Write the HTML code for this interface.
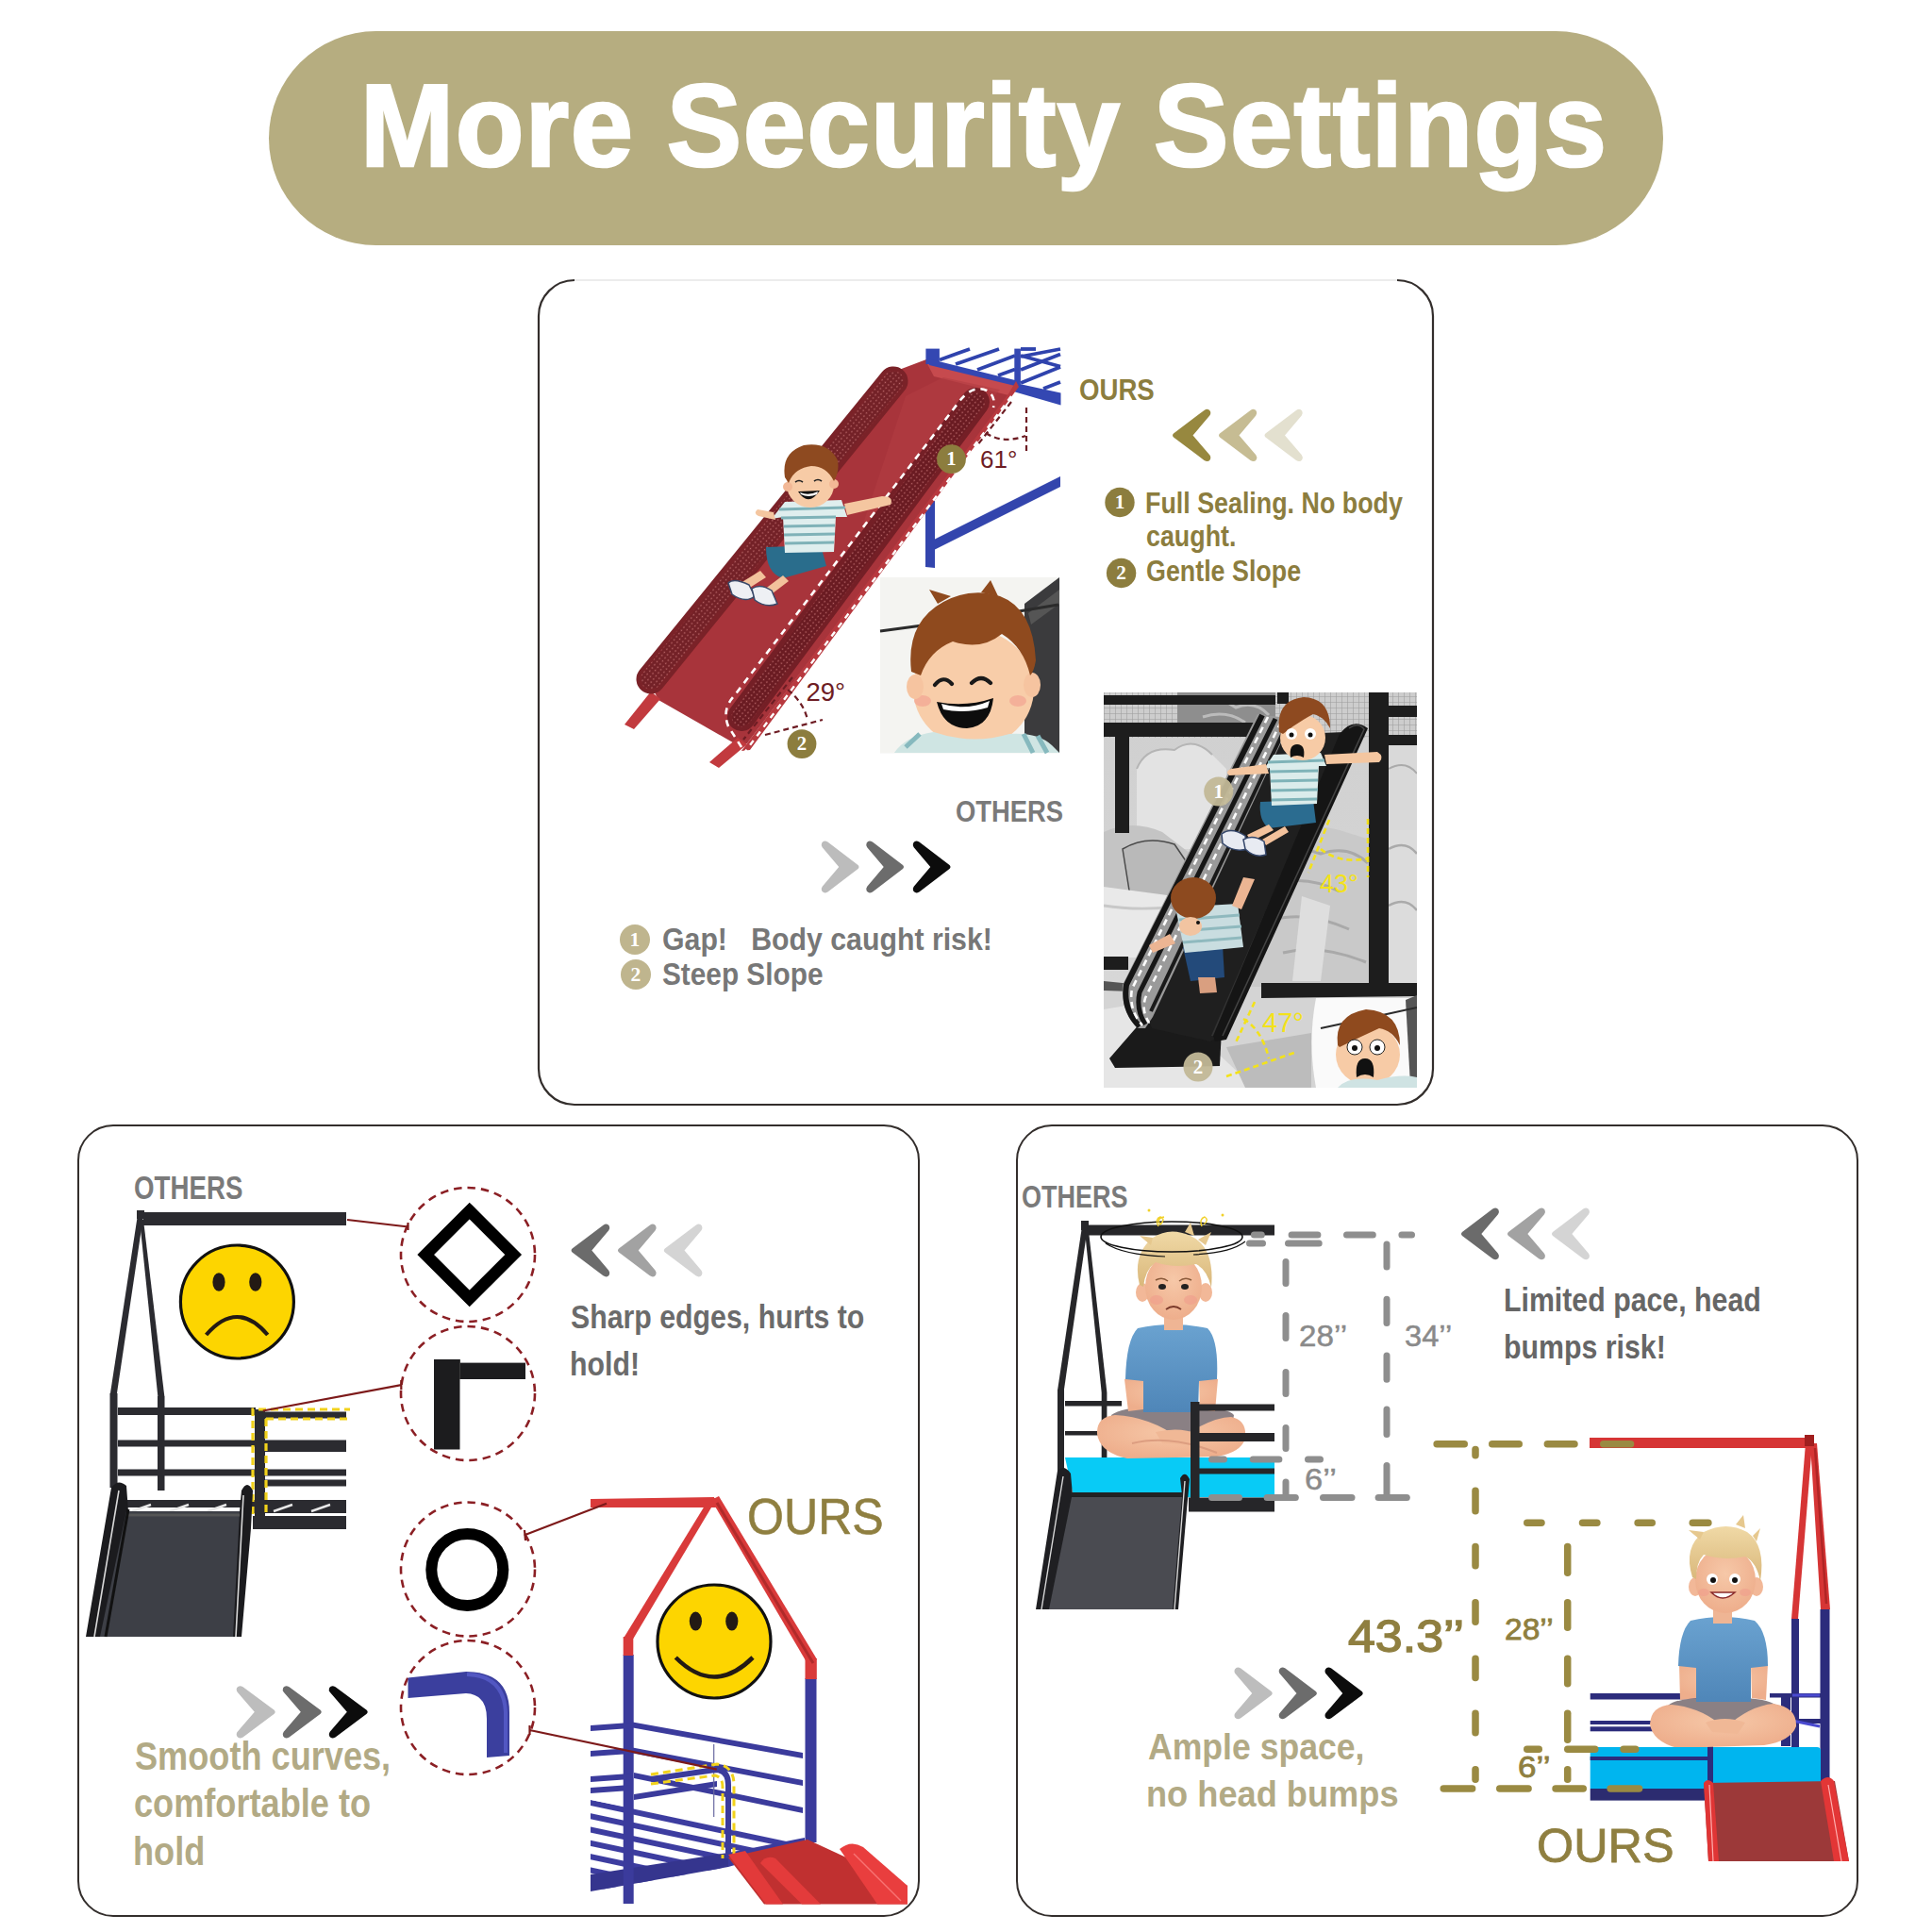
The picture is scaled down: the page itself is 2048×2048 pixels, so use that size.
<!DOCTYPE html>
<html><head><meta charset="utf-8">
<style>
*{margin:0;padding:0;box-sizing:border-box}
html,body{width:2048px;height:2048px;background:#fff;overflow:hidden}
body{position:relative;font-family:"Liberation Sans",sans-serif}
.a{position:absolute;white-space:nowrap;line-height:1;transform-origin:0 0}
.pill{left:285px;top:33px;width:1478px;height:227px;border-radius:114px;background:#b6ad80}
.title{left:382px;top:71px;font-size:119px;font-weight:bold;color:#fff;transform:scale(1.0,1.04);-webkit-text-stroke:2.6px #fff;letter-spacing:1.5px}
.box{position:absolute;border:2px solid #332e2c;border-radius:38px;background:#fff}
.b1{left:570px;top:296px;width:950px;height:876px;border-color:transparent}
.b2{left:82px;top:1192px;width:893px;height:840px}
.b3{left:1077px;top:1192px;width:893px;height:840px}
svg{position:absolute;left:0;top:0}
</style></head><body>
<div class="a pill"></div>
<div class="a title">More Security Settings</div>
<div class="box b1"></div>
<div class="box b2"></div>
<div class="box b3"></div>
<svg width="2048" height="2048" viewBox="0 0 2048 2048">
<path d="M609,297 L1481,297" stroke="#ececec" stroke-width="2" fill="none"/>
<path d="M609,297 A38,38 0 0 0 571,335 L571,1133 A38,38 0 0 0 609,1171 L1481,1171 A38,38 0 0 0 1519,1133 L1519,335 A38,38 0 0 0 1481,297" stroke="#332e2c" stroke-width="2.2" fill="none"/>

</svg>
<div class="a" style="left:1144.4px;top:396.9px;font-size:32.0px;font-weight:bold;color:#8c7d3e;transform:scaleX(0.863)">OURS</div>
<div class="a" style="left:1214.1px;top:518.2px;font-size:30.5px;font-weight:bold;color:#8c7d3e;transform:scaleX(0.88)">Full Sealing. No body</div>
<div class="a" style="left:1214.9px;top:553.2px;font-size:30.5px;font-weight:bold;color:#8c7d3e;transform:scaleX(0.88)">caught.</div>
<div class="a" style="left:1214.9px;top:590.2px;font-size:30.5px;font-weight:bold;color:#8c7d3e;transform:scaleX(0.88)">Gentle Slope</div>
<div class="a" style="left:1012.9px;top:843.9px;font-size:32.0px;font-weight:bold;color:#7a7a7a;transform:scaleX(0.856)">OTHERS</div>
<div class="a" style="left:701.8px;top:980.3px;font-size:32.7px;font-weight:bold;color:#777777;transform:scaleX(0.926)">Gap!&nbsp;&nbsp; Body caught risk!</div>
<div class="a" style="left:702.1px;top:1017.3px;font-size:32.7px;font-weight:bold;color:#777777;transform:scaleX(0.911)">Steep Slope</div>
<div class="a" style="left:141.5px;top:1241.5px;font-size:34.4px;font-weight:bold;color:#7a7a7a;transform:scaleX(0.805)">OTHERS</div>
<div class="a" style="left:604.7px;top:1379.3px;font-size:35.9px;font-weight:bold;color:#6b6b6b;transform:scaleX(0.844)">Sharp edges, hurts to</div>
<div class="a" style="left:603.5px;top:1428.6px;font-size:35.9px;font-weight:bold;color:#6b6b6b;transform:scaleX(0.844)">hold!</div>
<div class="a" style="left:791.5px;top:1580.5px;font-size:53.8px;font-weight:normal;color:#8f7f40;transform:scaleX(0.931);-webkit-text-stroke:0.6px #8f7f40">OURS</div>
<div class="a" style="left:142.6px;top:1841.4px;font-size:41.6px;font-weight:bold;color:#b2aa85;transform:scaleX(0.869)">Smooth curves,</div>
<div class="a" style="left:142.3px;top:1890.8px;font-size:41.6px;font-weight:bold;color:#b2aa85;transform:scaleX(0.869)">comfortable to</div>
<div class="a" style="left:141.2px;top:1941.8px;font-size:41.6px;font-weight:bold;color:#b2aa85;transform:scaleX(0.869)">hold</div>
<div class="a" style="left:1083.3px;top:1252.2px;font-size:33.6px;font-weight:bold;color:#7a7a7a;transform:scaleX(0.805)">OTHERS</div>
<div class="a" style="left:1593.9px;top:1360.2px;font-size:35.2px;font-weight:bold;color:#666666;transform:scaleX(0.861)">Limited pace, head</div>
<div class="a" style="left:1593.9px;top:1409.8px;font-size:35.2px;font-weight:bold;color:#666666;transform:scaleX(0.861)">bumps risk!</div>
<div class="a" style="left:1377.3px;top:1401.0px;font-size:31.5px;font-weight:normal;color:#8a8a8a;transform:scaleX(1.053);-webkit-text-stroke:0.5px #8a8a8a">28’’</div>
<div class="a" style="left:1488.7px;top:1401.0px;font-size:31.5px;font-weight:normal;color:#8a8a8a;transform:scaleX(1.035);-webkit-text-stroke:0.5px #8a8a8a">34’’</div>
<div class="a" style="left:1383.3px;top:1553.3px;font-size:31.5px;font-weight:normal;color:#8a8a8a;transform:scaleX(1.093);-webkit-text-stroke:0.5px #8a8a8a">6’’</div>
<div class="a" style="left:1429.1px;top:1710.6px;font-size:48.0px;font-weight:normal;color:#8f7f40;transform:scaleX(1.081);-webkit-text-stroke:1.4px #8f7f40">43.3’’</div>
<div class="a" style="left:1216.7px;top:1831.8px;font-size:39.2px;font-weight:bold;color:#b2aa85;transform:scaleX(0.908)">Ample space,</div>
<div class="a" style="left:1215.3px;top:1881.8px;font-size:39.2px;font-weight:bold;color:#b2aa85;transform:scaleX(0.924)">no head bumps</div>
<div class="a" style="left:1595.3px;top:1711.7px;font-size:31.1px;font-weight:normal;color:#8f7f40;transform:scaleX(1.079);-webkit-text-stroke:0.8px #8f7f40">28’’</div>
<div class="a" style="left:1609.2px;top:1858.4px;font-size:31.1px;font-weight:normal;color:#8f7f40;transform:scaleX(1.127);-webkit-text-stroke:0.8px #8f7f40">6’’</div>
<div class="a" style="left:1628.5px;top:1931.8px;font-size:50.3px;font-weight:normal;color:#8f7f40;transform:scaleX(1.002);-webkit-text-stroke:0.8px #8f7f40">OURS</div>
<svg width="2048" height="2048" viewBox="0 0 2048 2048">
<defs><pattern id="dots" width="4.2" height="4.2" patternUnits="userSpaceOnUse" patternTransform="rotate(38)"><circle cx="2.1" cy="2.1" r="0.75" fill="#d28080" opacity="0.75"/></pattern></defs>
<!-- blue frame lower -->
<g fill="#3345ad">
<path d="M981,523 L991,520 L991,602 L981,601 Z"/>
<path d="M990,572 L1124,505 L1124,516 L990,583 Z"/>
</g>
<!-- slide bed -->
<path d="M945,395 L982,381 L1076,406 L1070,420 L792,788 L782,790 L698,742 L688,722 Z" fill="#a8343b"/>
<path d="M982,384 L1076,407 L1069,419 L990,399 Z" fill="#c64a4e"/>
<path d="M960,420 L1000,400 L1060,413 L900,600 Z" fill="#b23d43" opacity="0.6"/>
<!-- blue frame top -->
<g stroke="#2f43ad" stroke-width="3.8" stroke-linecap="butt">
<line x1="996" y1="381.5" x2="1028" y2="370"/>
<line x1="1013" y1="386" x2="1059" y2="370"/>
<line x1="1036" y1="392" x2="1076" y2="377"/>
<line x1="1058" y1="398" x2="1076" y2="391.5"/>
<line x1="1082" y1="378" x2="1124" y2="370"/>
<line x1="1082" y1="392" x2="1124" y2="375.5"/>
<line x1="1082" y1="406" x2="1124" y2="389"/>
<line x1="1106" y1="412" x2="1124" y2="405"/>
<line x1="1082" y1="377" x2="1124" y2="388.5"/>
<line x1="1082" y1="370" x2="1098" y2="370"/>
</g>
<g fill="#3447b2">
<rect x="981.4" y="369.6" width="14.5" height="16.5"/>
<path d="M985,380.5 L1076,403 L1076,409 L985,387 Z"/>
<rect x="1075.3" y="369.6" width="6.6" height="38.4"/>
<path d="M1076,406 L1124.5,416.5 L1124.5,429.5 L1076,415.5 Z"/>
</g>
<!-- outer edge band -->
<path d="M1070,416 L1077,404 L1080,410 L795,795 L786,796 Z" fill="#b8393f"/>
<!-- legs -->
<path d="M690,733 L700,741 L672,773 L662,768 Z" fill="#c23a3e"/>
<path d="M782,782 L792,789 L762,814 L752,808 Z" fill="#c23a3e"/>
<!-- back rail -->
<line x1="947" y1="404" x2="690" y2="720" stroke="#7a2228" stroke-width="31" stroke-linecap="round"/>
<line x1="947" y1="404" x2="690" y2="720" stroke="#6e2127" stroke-width="20" stroke-linecap="round" opacity="0.5"/>
<line x1="947" y1="404" x2="690" y2="720" stroke="url(#dots)" stroke-width="22" stroke-linecap="round"/>
<!-- front rail -->
<line x1="1034" y1="426" x2="786" y2="760" stroke="#741f26" stroke-width="30" stroke-linecap="round"/>
<line x1="1034" y1="426" x2="786" y2="760" stroke="#651a20" stroke-width="19" stroke-linecap="round" opacity="0.6"/>
<line x1="1034" y1="426" x2="786" y2="760" stroke="url(#dots)" stroke-width="21" stroke-linecap="round"/>
<!-- white dashed loops -->
<path d="M786,792 L772,770 Q765,752 778,738 L1015,428 Q1030,407 1046,414 Q1056,420 1053,432" fill="none" stroke="#fff" stroke-width="2.6" stroke-dasharray="7 6"/>
<path d="M1072,420 L789,798" fill="none" stroke="#fff" stroke-width="2.4" stroke-dasharray="6 6"/>
<!-- angle markers -->
<g stroke="#6e1d24" stroke-width="2.2" fill="none" stroke-dasharray="6 4">
<path d="M1072,426 L1036,472"/>
<path d="M1088,432 L1088,478"/>
<path d="M1045,459 Q1063,471 1087,462"/>
<path d="M840,718 L788,784"/>
<path d="M811,779 L872,763"/>
<path d="M835,731 Q852,745 856,763"/>
</g>
<text x="1039" y="495.5" font-family="Liberation Sans" font-size="26" fill="#6e1d24">61°</text>
<text x="854.5" y="742.6" font-family="Liberation Sans" font-size="27.5" fill="#6e1d24">29°</text>
<!-- kid on slide -->
<g>
<path d="M812,580 L870,578 L876,600 L830,613 Q812,608 812,580 Z" fill="#2a6d8c"/>
<path d="M806,605 L785,618 L790,626 L812,612 Z" fill="#f3c29c"/>
<path d="M830,610 L810,625 L815,632 L836,616 Z" fill="#f3c29c"/>
<path d="M772,618 Q778,612 794,620 L800,632 Q790,640 776,630 Z" fill="#eef0f4" stroke="#3a4a6a" stroke-width="1.5"/>
<path d="M797,624 Q806,618 818,626 L824,640 Q812,645 800,636 Z" fill="#eef0f4" stroke="#3a4a6a" stroke-width="1.5"/>
<path d="M832,532 L892,530 L898,548 L886,548 L884,585 L832,586 L830,548 L818,550 Z" fill="#dfeeee"/>
<g stroke="#7fb2b8" stroke-width="3.2">
<line x1="826" y1="540" x2="896" y2="538"/>
<line x1="828" y1="549" x2="886" y2="548"/>
<line x1="831" y1="558" x2="885" y2="557"/>
<line x1="831" y1="567" x2="885" y2="566"/>
<line x1="832" y1="576" x2="884" y2="575"/>
</g>
<path d="M820,543 L803,540 Q798,544 804,547 L822,551 Z" fill="#f4c6a0"/>
<path d="M895,534 L935,526 Q948,526 944,535 L898,546 Z" fill="#f4c6a0"/>
<ellipse cx="859" cy="514" rx="25" ry="24" fill="#f7cba6"/>
<circle cx="835" cy="516" r="5" fill="#f2b896"/>
<circle cx="884" cy="513" r="5" fill="#f2b896"/>
<path d="M832,506 Q828,480 852,472 Q878,468 888,488 Q890,500 884,510 Q876,494 860,494 Q842,496 836,512 Z" fill="#8e4a20"/>
<path d="M846,521 Q857,538 869,520 Z" fill="#111"/>
<path d="M848,522 Q857,526 867,521 L866,524 Q857,528 849,524 Z" fill="#fff"/>
<path d="M843,511 Q847,508 851,511 M863,510 Q867,507 871,510" stroke="#222" stroke-width="1.6" fill="none"/>
</g>
<!-- inset face -->
<g>
<rect x="933" y="612" width="190.5" height="186.5" fill="#f4f4f1"/>
<path d="M1086,640 L1123,612 L1123,798 L1086,798 Z" fill="#3b3b3d"/>
<path d="M1090,650 L1123,625 L1123,640 L1093,662 Z" fill="#555"/>
<path d="M933,669 L1000,660 L1080,648 L1122,641" stroke="#2b2b2b" stroke-width="3" fill="none"/>
<ellipse cx="1032" cy="730" rx="64" ry="62" fill="#f8cda9"/>
<ellipse cx="978" cy="743" rx="9" ry="6" fill="#f3a995" opacity="0.8"/>
<ellipse cx="1079" cy="743" rx="9" ry="6" fill="#f3a995" opacity="0.8"/>
<ellipse cx="970" cy="728" rx="9" ry="13" fill="#f6c4a0"/>
<ellipse cx="1094" cy="726" rx="9" ry="13" fill="#f6c4a0"/>
<path d="M966,712 Q960,660 1000,638 Q1030,622 1060,632 Q1095,645 1098,700 Q1096,712 1092,716 Q1085,686 1062,672 Q1040,690 1010,680 Q985,690 976,716 Z" fill="#8f4a1e"/>
<path d="M994,640 L985,625 L1008,632 Z M1040,628 L1050,615 L1058,632 Z" fill="#8f4a1e"/>
<path d="M993,744 Q1000,772 1025,772 Q1050,770 1053,740 Q1024,750 993,744 Z" fill="#0d0d0d"/>
<path d="M998,746 Q1024,754 1049,743 L1047,750 Q1024,757 1000,752 Z" fill="#fff"/>
<path d="M991,726 Q1000,715 1009,725 M1030,724 Q1040,714 1050,724" stroke="#1a1a1a" stroke-width="4.2" fill="none" stroke-linecap="round"/>
<path d="M948,798 Q960,780 990,776 Q1030,790 1070,778 Q1100,776 1115,790 L1123,798 Z" fill="#cfe5e3"/>
<path d="M960,792 L975,778 M1085,778 L1095,798 M1100,780 L1110,798" stroke="#86b9be" stroke-width="5"/>
</g>
<defs>
<clipPath id="phc"><rect x="1170" y="734" width="332" height="419"/></clipPath>
<pattern id="mesh" width="6" height="6" patternUnits="userSpaceOnUse"><rect width="6" height="6" fill="#cdcdcd"/><path d="M0,0 H6 M0,0 V6" stroke="#9c9c9c" stroke-width="1.1"/></pattern>
<linearGradient id="wallg" x1="0" y1="0" x2="0" y2="1"><stop offset="0" stop-color="#cfcfcf"/><stop offset="1" stop-color="#dadada"/></linearGradient>
</defs>
<g clip-path="url(#phc)">
<rect x="1170" y="734" width="332" height="419" fill="url(#wallg)"/>
<!-- top bunk mattress mesh -->
<rect x="1170" y="734" width="332" height="48" fill="url(#mesh)"/>
<path d="M1248,734 L1352,734 L1352,770 L1300,772 L1248,770 Z" fill="#8e8e8e"/>
<path d="M1268,742 Q1290,736 1310,750 Q1330,742 1345,758 M1275,760 Q1300,752 1320,766" stroke="#cfcfcf" stroke-width="3" fill="none" opacity="0.7"/>
<!-- headboard -->
<path d="M1205,900 L1205,815 Q1215,790 1245,795 Q1265,780 1285,800 L1300,815 L1300,900 Z" fill="#e3e3e3"/>
<path d="M1205,815 Q1215,790 1245,795 Q1265,780 1285,800" stroke="#b5b5b5" stroke-width="2" fill="none"/>
<!-- right side upper wall -->
<rect x="1472" y="790" width="30" height="90" fill="#d9d9d9"/>
<path d="M1472,815 Q1490,805 1502,820" stroke="#aaa" stroke-width="2" fill="none"/>
<!-- pillows left -->
<path d="M1170,882 Q1200,868 1232,882 L1262,905 L1262,960 L1230,972 L1170,960 Z" fill="#c4c4c4"/>
<path d="M1190,900 Q1215,885 1245,895 L1262,920 L1258,965 L1222,975 L1198,950 Z" fill="#b9b9b9" stroke="#4a4a4a" stroke-width="1.5"/>
<path d="M1170,940 L1245,950 L1250,1015 L1170,1015 Z" fill="#e9e9e9"/>
<path d="M1170,960 Q1200,965 1240,962" stroke="#c8c8c8" stroke-width="3" fill="none"/>
<!-- lower right bedding -->
<path d="M1330,880 Q1380,870 1420,880 L1452,890 L1452,1046 L1320,1046 Z" fill="#c9c9c9"/>
<path d="M1340,905 Q1370,895 1400,905 Q1430,895 1450,915 M1345,940 Q1380,925 1420,945 M1350,975 Q1385,965 1430,985 M1360,1010 Q1400,1000 1448,1020" stroke="#a9a9a9" stroke-width="3" fill="none"/>
<path d="M1380,950 L1410,960 L1400,1040 L1370,1040 Z" fill="#dedede"/>
<rect x="1472" y="880" width="30" height="165" fill="#dcdcdc"/>
<path d="M1472,900 Q1490,890 1502,905 M1472,960 Q1490,950 1502,965" stroke="#aaa" stroke-width="2.5" fill="none"/>
<!-- floor -->
<rect x="1170" y="1046" width="332" height="110" fill="#d4d4d4"/>
<path d="M1170,1070 L1230,1060 L1330,1153 L1170,1153 Z" fill="#e6e6e6"/>
<path d="M1300,1110 L1390,1095 L1390,1153 L1320,1153 Z" fill="#bcbcbc"/>
<!-- black frame -->
<g fill="#1d1d1d">
<rect x="1170" y="737" width="182" height="10"/>
<rect x="1170" y="766" width="182" height="15"/>
<rect x="1182" y="780" width="15" height="103"/>
<rect x="1354" y="734" width="12" height="12"/>
<rect x="1451" y="734" width="21" height="322"/>
<rect x="1472" y="748" width="31" height="12"/>
<rect x="1472" y="779" width="31" height="11"/>
<rect x="1170" y="1014" width="26" height="14"/>
<path d="M1337,1042 L1503,1042 L1503,1056 L1337,1058 Z"/>
<path d="M1170,1040 L1230,1046 L1230,1052 L1170,1050 Z" fill="#555"/>
</g>
<!-- black slide -->
<path d="M1176,1122 L1209,1084 L1295,1091 L1293,1130 L1182,1132 Z" fill="#1a1a1a"/>
<path d="M1355,779 L1425,776 L1432,782 L1290,1100 L1283,1104 L1221,1090 L1215,1075 Z" fill="#1f1f1f"/>
<path d="M1420,785 L1430,780 L1292,1098 L1284,1098 Z" fill="#333"/>
<path d="M1333,757 L1356,760 L1366,770 L1222,1078 L1214,1090 L1206,1090 Q1188,1072 1190,1044 Z" fill="#9a9a9a"/>
<path d="M1338,758 L1194,1044 Q1190,1070 1208,1088" stroke="#161616" stroke-width="6" fill="none"/>
<path d="M1352,762 L1208,1052 Q1204,1070 1214,1086" stroke="#161616" stroke-width="5" fill="none"/>
<path d="M1364,768 L1220,1072" stroke="#1a1a1a" stroke-width="4" fill="none"/>
<path d="M1344,760 L1200,1048 Q1196,1070 1211,1087" stroke="#fff" stroke-width="2.6" fill="none" stroke-dasharray="7 5"/>
<path d="M1358,765 L1214,1058 Q1210,1072 1218,1084" stroke="#fff" stroke-width="2.6" fill="none" stroke-dasharray="7 5"/>
<path d="M1420,778 Q1434,760 1450,772 L1300,1102 L1288,1104 L1286,1098 Z" fill="#151515"/>
<path d="M1430,772 Q1440,765 1446,773 L1296,1098" stroke="#444" stroke-width="1.5" fill="none"/>
<!-- upper kid -->
<path d="M1336,850 L1392,848 L1395,872 L1345,878 Q1334,870 1336,850 Z" fill="#2b6c90"/>
<path d="M1345,874 L1322,885 L1326,892 L1350,880 Z M1362,876 L1338,890 L1342,896 L1366,882 Z" fill="#f3c29c"/>
<path d="M1295,884 Q1305,876 1320,886 L1322,900 Q1308,904 1296,894 Z" fill="#e8ebf2" stroke="#34466a" stroke-width="1.5"/>
<path d="M1318,890 Q1328,884 1340,892 L1342,906 Q1330,910 1320,900 Z" fill="#e8ebf2" stroke="#34466a" stroke-width="1.5"/>
<path d="M1350,800 L1400,798 L1406,812 L1398,812 L1396,852 L1348,854 L1346,814 L1340,815 Z" fill="#dbeceb"/>
<g stroke="#7fb3b8" stroke-width="3"><line x1="1344" y1="808" x2="1404" y2="806"/><line x1="1346" y1="818" x2="1397" y2="817"/><line x1="1347" y1="828" x2="1397" y2="827"/><line x1="1347" y1="838" x2="1397" y2="837"/><line x1="1348" y1="848" x2="1396" y2="847"/></g>
<path d="M1342,810 L1305,815 Q1298,818 1303,822 L1345,820 Z" fill="#f4c6a0"/>
<path d="M1404,800 L1460,797 Q1468,802 1462,808 L1406,810 Z" fill="#f4c6a0"/>
<ellipse cx="1381" cy="782" rx="24" ry="24" fill="#f7cba6"/>
<path d="M1356,776 Q1352,742 1382,739 Q1410,740 1410,772 Q1404,760 1392,757 Q1375,766 1360,778 Z" fill="#8e4a20"/>
<circle cx="1369" cy="778" r="6" fill="#fff"/><circle cx="1389" cy="778" r="6" fill="#fff"/>
<circle cx="1369" cy="779" r="2.5" fill="#111"/><circle cx="1389" cy="779" r="2.5" fill="#111"/>
<path d="M1368,803 Q1366,789 1375,789 Q1384,789 1382,803 Q1375,799 1368,803 Z" fill="#111"/>
<!-- lower kid -->
<path d="M1254,1004 L1296,1002 L1298,1036 L1262,1040 Z" fill="#234a7a"/>
<path d="M1270,1036 L1288,1036 L1290,1052 L1272,1053 Z" fill="#d99f80"/>
<path d="M1246,962 L1312,958 L1318,1004 L1256,1010 Z" fill="#c9dde0"/>
<g stroke="#8fb9be" stroke-width="3"><line x1="1250" y1="975" x2="1314" y2="970"/><line x1="1252" y1="987" x2="1316" y2="982"/><line x1="1254" y1="999" x2="1316" y2="994"/></g>
<path d="M1306,960 L1318,930 L1330,932 L1316,964 Z" fill="#ecb593"/>
<path d="M1240,990 L1218,1002 L1222,1010 L1246,1000 Z" fill="#ecb593"/>
<ellipse cx="1265" cy="952" rx="24" ry="22" fill="#8d4a1f"/>
<ellipse cx="1262" cy="982" rx="12" ry="10" fill="#f2c4a1"/>
<circle cx="1270" cy="978" r="2" fill="#111"/>
<!-- inset scared face -->
<path d="M1395,1058 L1502,1058 L1502,1153 L1395,1153 Q1386,1105 1395,1058 Z" fill="#fafafa"/>
<path d="M1490,1060 L1502,1055 L1502,1150 L1495,1150 Z" fill="#555"/>
<path d="M1400,1090 L1470,1075 L1502,1068" stroke="#2b2b2b" stroke-width="2" fill="none"/>
<ellipse cx="1450" cy="1118" rx="34" ry="32" fill="#f7cba6"/>
<path d="M1418,1108 Q1414,1076 1448,1070 Q1484,1072 1484,1108 Q1476,1092 1462,1090 Q1440,1100 1420,1110 Z" fill="#8f4a1e"/>
<circle cx="1436" cy="1110" r="8" fill="#fff" stroke="#222" stroke-width="1"/><circle cx="1460" cy="1110" r="8" fill="#fff" stroke="#222" stroke-width="1"/>
<circle cx="1436" cy="1111" r="3" fill="#111"/><circle cx="1460" cy="1111" r="3" fill="#111"/>
<path d="M1438,1142 Q1436,1122 1447,1122 Q1458,1122 1456,1142 Q1447,1136 1438,1142 Z" fill="#111"/>
<path d="M1418,1153 Q1430,1140 1460,1145 Q1485,1138 1502,1142 L1502,1153 Z" fill="#cfe3e3"/>
<!-- yellow angle markers -->
<g stroke="#f3e21a" stroke-width="2.6" fill="none" stroke-dasharray="6 4">
<path d="M1409,869 L1387,925"/>
<path d="M1450,868 L1450,930"/>
<path d="M1400,900 Q1420,916 1450,910"/>
<path d="M1330,1062 L1310,1105"/>
<path d="M1300,1141 L1372,1116"/>
<path d="M1318,1080 Q1338,1092 1345,1122"/>
</g>
<text x="1399" y="946" font-family="Liberation Sans" font-size="27" fill="#f3e21a">43°</text>
<text x="1338" y="1093.5" font-family="Liberation Sans" font-size="29" fill="#f3e21a">47°</text>
</g>
<circle cx="1291.7" cy="839" r="15.5" fill="#c2b897" opacity="0.95"/>
<text x="1291.7" y="846" font-family="Liberation Serif" font-weight="bold" font-size="21" fill="#fff" text-anchor="middle">1</text>
<circle cx="1270" cy="1131" r="15.5" fill="#c2b897" opacity="0.95"/>
<text x="1270" y="1138" font-family="Liberation Serif" font-weight="bold" font-size="21" fill="#fff" text-anchor="middle">2</text>
<!-- bottom-left OTHERS black frame -->
<g fill="#2b2b30">
<rect x="152" y="1285" width="215" height="14"/>
<rect x="145" y="1283" width="8" height="9"/>
<path d="M145.6,1290 L151.8,1290 L123.8,1478 L116.8,1478 Z"/>
<path d="M148,1293 L152,1293 L174.3,1480 L167.3,1480 Z"/>
<rect x="116.5" y="1477" width="8" height="100"/>
<rect x="167" y="1480" width="7.5" height="100"/>
<rect x="125" y="1492" width="146" height="8"/>
<rect x="271" y="1496.5" width="96" height="7"/>
<rect x="125" y="1526.5" width="242" height="7"/>
<rect x="280" y="1528" width="87" height="11"/>
<rect x="125" y="1557.5" width="242" height="7"/>
<rect x="280" y="1568.5" width="87" height="7"/>
<rect x="270" y="1494" width="11" height="113"/>
<rect x="125" y="1590" width="242" height="8"/>
<rect x="268" y="1592" width="99" height="12"/>
<rect x="268" y="1607" width="99" height="14"/>
</g>
<g stroke="#e8e8e8" stroke-width="2.4"><path d="M140,1602 L160,1595 M180,1602 L200,1595 M220,1602 L240,1595 M290,1602 L310,1595 M330,1602 L350,1595"/></g>

<!-- yellow dashes on L corner -->
<g stroke="#f2d21b" stroke-width="3.2" stroke-dasharray="8 5" fill="none">
<path d="M268,1605 L268,1494 L371,1494"/>
<path d="M282,1504 L371,1504"/>
<path d="M282,1504 L282,1605"/>
</g>
<!-- black slide -->
<path d="M118,1577 Q125,1567 134,1575 L136,1602 L254,1602 L256,1580 Q262,1568 268,1580 L266,1620 L256,1735 L91,1735 Z" fill="#1b1b1e"/>
<path d="M134,1602 L254,1602 L247,1735 L106,1735 Z" fill="#3d3f46"/>
<path d="M134,1606 L254,1606" stroke="#555" stroke-width="3"/>
<path d="M126,1580 L100,1735 M258,1585 L250,1735" stroke="#d8d8d8" stroke-width="1.6" fill="none"/>
<path d="M136,1600 L112,1735" stroke="#111" stroke-width="3"/>

<!-- bottom-left OURS red/blue frame -->
<defs>
<pattern id="slats" width="14" height="14" patternUnits="userSpaceOnUse" patternTransform="rotate(12)">
<rect width="14" height="14" fill="#fff"/><rect width="14" height="6" fill="#3d3da0"/></pattern>
</defs>
<path d="M626,1908 L853,1952 L772,1979 L626,2005 Z" fill="url(#slats)"/>
<path d="M626,1987 L772,1964 L772,1979 L626,2005 Z" fill="#35358e"/>
<path d="M772,1964 L853,1948 L853,1956 L772,1979 Z" fill="#3b3b9c"/>
<g fill="#3b3b9c">
<rect x="660.7" y="1754" width="11" height="264"/>
<rect x="853.5" y="1779" width="12" height="174"/>
<path d="M626,1829 L668,1826 L668,1832 L626,1835 Z"/>
<path d="M668,1825 L851,1858 L851,1864 L668,1831 Z"/>
<path d="M626,1856 L668,1853 L668,1859 L626,1862 Z"/>
<path d="M668,1852 L851,1887 L851,1893 L668,1858 Z"/>
<path d="M626,1883 L668,1880 L668,1886 L626,1889 Z"/>
<path d="M672,1879 L851,1916 L851,1922 L672,1885 Z"/>
<path d="M626,1895 L668,1892 L668,1898 L626,1901 Z"/>
<path d="M672,1902 L760,1888 L760,1894 L672,1908 Z"/>
</g>
<line x1="756.7" y1="1849" x2="756.7" y2="1926" stroke="#6a6aa0" stroke-width="1.2"/>
<!-- red frame -->
<g fill="#d93a3a">
<path d="M626,1589 L757,1587 L759,1598 L626,1598 Z"/>
<path d="M752,1588 L760,1588 L671.3,1737 L660.7,1737 Z"/>
<rect x="660.7" y="1735" width="10.6" height="20"/>
<path d="M754,1590 L762,1586 L866,1759 L855,1762 Z"/>
<rect x="853.5" y="1758" width="12.3" height="22"/>
</g>
<path d="M760,1593 L862,1763" stroke="#b02a2a" stroke-width="3"/>
<!-- curved handrail with yellow dashes -->
<path d="M690,1886 L758,1876 Q772,1876 772,1892 L772,1970" stroke="#3b3b9c" stroke-width="6" fill="none"/>
<path d="M690,1881 L760,1870 Q778,1872 778,1892 L778,1970 M690,1891 L758,1882 Q766,1884 766,1894 L766,1970" stroke="#f2d21b" stroke-width="3" stroke-dasharray="8 5" fill="none"/>
<!-- red slide -->
<path d="M772,1969 L856,1950 L962,1999 L962,2018.5 L810,2018.5 Z" fill="#c03030"/>
<path d="M772,1966 L790,1962 L830,2018.5 L812,2018.5 Z" fill="#e23a3a"/>
<path d="M806,1975 Q812,1966 822,1970 L870,2018.5 L850,2018.5 Z" fill="#e33b3b"/>
<path d="M890,1960 Q902,1950 915,1958 L962,1999 L962,2018.5 L930,2018.5 Z" fill="#e93e3e"/>
<path d="M905,1965 L955,2015" stroke="#ff8a8a" stroke-width="1.5" opacity="0.7"/>
<!-- bottom-right OTHERS frame -->
<defs>
<linearGradient id="shirt" x1="0" y1="0" x2="0" y2="1"><stop offset="0" stop-color="#6aa2d0"/><stop offset="1" stop-color="#4f86b8"/></linearGradient>
<radialGradient id="skin" cx="0.5" cy="0.4" r="0.6"><stop offset="0" stop-color="#f6c8a8"/><stop offset="1" stop-color="#eeae8c"/></radialGradient>
<linearGradient id="hair" x1="0" y1="0" x2="0" y2="1"><stop offset="0" stop-color="#f0d9a6"/><stop offset="1" stop-color="#d9b77a"/></linearGradient>
</defs>
<g fill="#262629">
<rect x="1148" y="1298.5" width="203" height="11"/>
<rect x="1146" y="1294" width="8" height="10"/>
<path d="M1147,1300 L1153,1300 L1127.8,1474 L1121,1474 Z"/>
<path d="M1150,1305 L1154,1305 L1173.4,1476 L1167.7,1476 Z"/>
<rect x="1121" y="1473" width="7" height="88"/>
<rect x="1167.7" y="1476" width="5.7" height="70"/>
<rect x="1129" y="1485" width="60" height="5.5"/>
<rect x="1129" y="1517" width="40" height="4.5"/>
</g>
<!-- cyan mattress -->
<path d="M1129,1545 L1351,1545 L1351,1587.5 L1138,1586.5 Z" fill="#08cbf6"/>
<!-- kid (others) -->
<g>
<path d="M1178,1500 Q1190,1490 1240,1492 Q1300,1490 1308,1500 L1305,1518 L1180,1518 Z" fill="#8a8084"/>
<path d="M1163,1520 Q1162,1502 1182,1500 Q1220,1502 1250,1525 Q1285,1502 1305,1502 Q1322,1505 1320,1525 Q1315,1540 1290,1544 L1195,1546 Q1166,1540 1163,1520 Z" fill="url(#skin)"/>
<path d="M1225,1518 Q1250,1512 1270,1520 L1262,1532 L1232,1530 Z" fill="#f0b896"/><path d="M1200,1530 Q1240,1520 1290,1540" stroke="#dc9d80" stroke-width="2" fill="none"/>
<path d="M1192,1462 L1212,1462 L1212,1494 L1196,1496 Z M1271,1462 L1291,1462 L1288,1496 L1272,1494 Z" fill="url(#skin)"/>
<path d="M1206,1408 Q1242,1400 1280,1408 Q1292,1420 1290,1462 L1271,1464 L1270,1497 L1212,1497 L1212,1464 L1193,1462 Q1194,1420 1206,1408 Z" fill="url(#shirt)"/>
<rect x="1234" y="1390" width="20" height="20" fill="#efb594"/>
<ellipse cx="1211" cy="1370" rx="7" ry="10" fill="#f2b898"/>
<ellipse cx="1278" cy="1370" rx="7" ry="10" fill="#f2b898"/>
<ellipse cx="1244" cy="1364" rx="30" ry="35" fill="url(#skin)"/>
<ellipse cx="1226" cy="1378" rx="7" ry="5" fill="#f09c8c" opacity="0.6"/>
<ellipse cx="1262" cy="1378" rx="7" ry="5" fill="#f09c8c" opacity="0.6"/>
<path d="M1208,1362 Q1200,1330 1222,1312 Q1240,1300 1262,1310 Q1288,1322 1284,1365 Q1280,1346 1268,1340 Q1245,1345 1225,1338 Q1214,1346 1212,1364 Z" fill="url(#hair)"/>
<path d="M1222,1312 L1208,1310 L1220,1320 Z M1256,1306 L1262,1296 L1266,1310 Z M1270,1314 L1284,1306 L1278,1320 Z" fill="#e6c88e"/>
<ellipse cx="1232" cy="1364" rx="4" ry="3" fill="#222"/>
<ellipse cx="1256" cy="1364" rx="4" ry="3" fill="#222"/>
<path d="M1225,1357 Q1232,1353 1238,1358 M1250,1358 Q1256,1353 1263,1357" stroke="#8a5a3a" stroke-width="1.5" fill="none"/>
<path d="M1236,1388 Q1244,1382 1252,1388" stroke="#7a3a2a" stroke-width="1.8" fill="none"/>
<ellipse cx="1242" cy="1311" rx="75" ry="16" fill="none" stroke="#111" stroke-width="1.6"/>
<path d="M1172,1318 Q1190,1330 1235,1332 M1265,1330 Q1305,1328 1320,1316" stroke="#111" stroke-width="1.2" fill="none"/>
<path d="M1228,1300 q-4,-8 2,-10 q6,2 0,8 q-5,-6 4,-8 M1274,1300 q-3,-8 3,-10 q5,3 -1,8" stroke="#f1d12a" stroke-width="1.4" fill="none"/>
<circle cx="1218" cy="1283" r="1.5" fill="#f1d12a"/><circle cx="1296" cy="1288" r="1.5" fill="#f1d12a"/>
</g>
<!-- right rails over kid -->
<g fill="#262629">
<rect x="1262" y="1486" width="9.5" height="110"/>
<rect x="1271" y="1488.5" width="80" height="7"/>
<rect x="1271" y="1519" width="80" height="9"/>
<rect x="1271" y="1556.5" width="80" height="6"/>
<rect x="1260" y="1587.5" width="91" height="15"/>
</g>
<!-- dark slide -->
<path d="M1121,1559 Q1128,1552 1135,1562 L1137,1585 L1253,1585 L1251,1567 Q1256,1558 1261,1568 L1258,1600 L1249,1706 L1098,1706 Z" fill="#1f1f22"/>
<path d="M1136,1587 L1253,1587 L1243,1706 L1112,1706 Z" fill="#4a4b51"/>
<path d="M1135,1584 L1253,1584" stroke="#222" stroke-width="4"/>
<path d="M1127,1565 L1104,1706 M1256,1570 L1245,1706" stroke="#d8d8d8" stroke-width="1.4" fill="none"/>

<!-- bottom-right OURS -->
<g fill="#d63535">
<path d="M1685,1524 L1922,1524 L1922,1535 L1685,1535 Z"/>
<path d="M1914,1530 L1921,1530 L1906,1716 L1899,1716 Z"/>
<path d="M1919,1530 L1926,1530 L1940,1706 L1930,1706 Z"/>
</g>
<rect x="1913" y="1521" width="10" height="12" fill="#a01e1e"/>
<path d="M1924,1535 L1936,1700" stroke="#b02525" stroke-width="2.5"/>
<g fill="#2c2c7c">
<rect x="1899" y="1716" width="8" height="136"/>
<rect x="1929.5" y="1706" width="10" height="183"/>
<path d="M1685.7,1795 L1808,1795 Q1816,1796 1816,1806 L1816,1888 L1810,1888 L1810,1808 Q1810,1802 1804,1801.5 L1685.7,1801.5 Z"/>
<rect x="1685.7" y="1824" width="67" height="4"/>
<rect x="1685.7" y="1830.3" width="125" height="5"/>
<rect x="1876" y="1795" width="54" height="4.5"/>
<rect x="1900" y="1822" width="30" height="5"/>
<rect x="1888" y="1795" width="10" height="56"/>
</g>
<path d="M1900,1797 L1929,1797 M1900,1824 L1929,1830" stroke="#4a4ad0" stroke-width="3"/>
<!-- kid (ours) -->
<g>
<path d="M1768,1808 Q1780,1798 1825,1800 Q1870,1798 1884,1808 L1880,1828 L1772,1828 Z" fill="#8a8084"/>
<path d="M1749,1828 Q1750,1808 1772,1807 Q1805,1810 1828,1832 Q1855,1808 1880,1806 Q1905,1810 1904,1830 Q1898,1846 1870,1850 L1778,1853 Q1752,1846 1749,1828 Z" fill="url(#skin)"/>
<path d="M1780,1764 L1798,1764 L1798,1800 L1781,1802 Z M1856,1764 L1874,1764 L1872,1802 L1857,1800 Z" fill="url(#skin)"/>
<path d="M1792,1718 Q1826,1710 1860,1718 Q1874,1730 1874,1766 L1856,1768 L1856,1804 L1798,1804 L1798,1768 L1779,1766 Q1780,1730 1792,1718 Z" fill="url(#shirt)"/>
<rect x="1816" y="1705" width="20" height="16" fill="#efb594"/>
<ellipse cx="1797" cy="1682" rx="7" ry="10" fill="#f2b898"/>
<ellipse cx="1862" cy="1682" rx="7" ry="10" fill="#f2b898"/>
<ellipse cx="1829" cy="1675" rx="32" ry="35" fill="url(#skin)"/>
<path d="M1794,1672 Q1784,1640 1806,1624 Q1830,1612 1852,1624 Q1872,1638 1866,1676 Q1862,1656 1850,1650 Q1828,1655 1806,1648 Q1798,1656 1798,1674 Z" fill="url(#hair)"/>
<path d="M1806,1624 L1790,1622 L1802,1632 Z M1840,1616 L1848,1606 L1850,1620 Z M1858,1628 L1866,1620 L1862,1634 Z" fill="#e6c88e"/>
<circle cx="1815" cy="1674" r="6" fill="#fff"/><circle cx="1839" cy="1674" r="6" fill="#fff"/>
<circle cx="1816" cy="1675" r="3" fill="#111"/><circle cx="1839" cy="1675" r="3" fill="#111"/>
<path d="M1814,1688 Q1826,1700 1839,1688 Z" fill="#fff" stroke="#8a2a2a" stroke-width="1.5"/><path d="M1808,1826 Q1828,1818 1850,1826 L1842,1838 L1815,1836 Z" fill="#f0b896"/>
<ellipse cx="1806" cy="1688" rx="6" ry="4" fill="#f09c8c" opacity="0.6"/>
<ellipse cx="1850" cy="1688" rx="6" ry="4" fill="#f09c8c" opacity="0.6"/>
</g>
<!-- cyan mattress ours -->
<path d="M1685.7,1852 L1926,1852 Q1930,1852 1930,1856 L1930,1896 L1685.7,1896 Z" fill="#00b5ef"/>
<rect x="1685.7" y="1862" width="130" height="4" fill="#2c2c7c"/>
<rect x="1685.7" y="1896" width="244" height="12.6" fill="#2c2c70"/>
<rect x="1810" y="1852" width="6" height="40" fill="#2c2c7c"/>
<!-- red slide ours -->
<path d="M1806,1890 L1945,1888 L1960,1973 L1811,1973 Z" fill="#9c3939"/>
<path d="M1806,1890 Q1810,1884 1816,1890 L1822,1973 L1811,1973 Z" fill="#e03535"/>
<path d="M1930,1888 Q1938,1880 1944,1888 L1960,1973 L1944,1973 Z" fill="#e33636"/>
<path d="M1812,1892 L1816,1973 M1938,1892 L1952,1973" stroke="#ffb0b0" stroke-width="1.2"/>
<path d="M1,26 L33.5,1.6 Q37.5,-0.8 39.8,2.4 Q41,5 39.3,7.2 L21.5,28 L39.3,48.8 Q41,51 39.8,53.6 Q37.5,56.8 33.5,54.4 L1,30 Q-1,28 1,26 Z" fill="#97883f" transform="translate(1243,433.3) scale(1.0,1.0053571428571428)"/>
<path d="M1,26 L33.5,1.6 Q37.5,-0.8 39.8,2.4 Q41,5 39.3,7.2 L21.5,28 L39.3,48.8 Q41,51 39.8,53.6 Q37.5,56.8 33.5,54.4 L1,30 Q-1,28 1,26 Z" fill="#c6bc93" transform="translate(1292,433.3) scale(1.0,1.0053571428571428)"/>
<path d="M1,26 L33.5,1.6 Q37.5,-0.8 39.8,2.4 Q41,5 39.3,7.2 L21.5,28 L39.3,48.8 Q41,51 39.8,53.6 Q37.5,56.8 33.5,54.4 L1,30 Q-1,28 1,26 Z" fill="#e3e0cf" transform="translate(1340.5,433.3) scale(1.0,1.0053571428571428)"/>
<path d="M1,26 L33.5,1.6 Q37.5,-0.8 39.8,2.4 Q41,5 39.3,7.2 L21.5,28 L39.3,48.8 Q41,51 39.8,53.6 Q37.5,56.8 33.5,54.4 L1,30 Q-1,28 1,26 Z" fill="#bcbcbc" transform="translate(910.5,891) scale(-0.9875,1.0)"/>
<path d="M1,26 L33.5,1.6 Q37.5,-0.8 39.8,2.4 Q41,5 39.3,7.2 L21.5,28 L39.3,48.8 Q41,51 39.8,53.6 Q37.5,56.8 33.5,54.4 L1,30 Q-1,28 1,26 Z" fill="#6c6c6c" transform="translate(958.0,891) scale(-0.9875,1.0)"/>
<path d="M1,26 L33.5,1.6 Q37.5,-0.8 39.8,2.4 Q41,5 39.3,7.2 L21.5,28 L39.3,48.8 Q41,51 39.8,53.6 Q37.5,56.8 33.5,54.4 L1,30 Q-1,28 1,26 Z" fill="#0c0c0c" transform="translate(1007.5,891) scale(-0.9875,1.0)"/>
<path d="M1,26 L33.5,1.6 Q37.5,-0.8 39.8,2.4 Q41,5 39.3,7.2 L21.5,28 L39.3,48.8 Q41,51 39.8,53.6 Q37.5,56.8 33.5,54.4 L1,30 Q-1,28 1,26 Z" fill="#6b6b6b" transform="translate(605.6,1297) scale(1.01,1.0178571428571428)"/>
<path d="M1,26 L33.5,1.6 Q37.5,-0.8 39.8,2.4 Q41,5 39.3,7.2 L21.5,28 L39.3,48.8 Q41,51 39.8,53.6 Q37.5,56.8 33.5,54.4 L1,30 Q-1,28 1,26 Z" fill="#a2a2a2" transform="translate(655,1297) scale(1.01,1.0178571428571428)"/>
<path d="M1,26 L33.5,1.6 Q37.5,-0.8 39.8,2.4 Q41,5 39.3,7.2 L21.5,28 L39.3,48.8 Q41,51 39.8,53.6 Q37.5,56.8 33.5,54.4 L1,30 Q-1,28 1,26 Z" fill="#d4d4d4" transform="translate(703.8,1297) scale(1.01,1.0178571428571428)"/>
<path d="M1,26 L33.5,1.6 Q37.5,-0.8 39.8,2.4 Q41,5 39.3,7.2 L21.5,28 L39.3,48.8 Q41,51 39.8,53.6 Q37.5,56.8 33.5,54.4 L1,30 Q-1,28 1,26 Z" fill="#bdbdbd" transform="translate(291.7,1786.6) scale(-1.0175,1.0071428571428571)"/>
<path d="M1,26 L33.5,1.6 Q37.5,-0.8 39.8,2.4 Q41,5 39.3,7.2 L21.5,28 L39.3,48.8 Q41,51 39.8,53.6 Q37.5,56.8 33.5,54.4 L1,30 Q-1,28 1,26 Z" fill="#6c6c6c" transform="translate(340.7,1786.6) scale(-1.0175,1.0071428571428571)"/>
<path d="M1,26 L33.5,1.6 Q37.5,-0.8 39.8,2.4 Q41,5 39.3,7.2 L21.5,28 L39.3,48.8 Q41,51 39.8,53.6 Q37.5,56.8 33.5,54.4 L1,30 Q-1,28 1,26 Z" fill="#0c0c0c" transform="translate(389.7,1786.6) scale(-1.0175,1.0071428571428571)"/>
<path d="M1,26 L33.5,1.6 Q37.5,-0.8 39.8,2.4 Q41,5 39.3,7.2 L21.5,28 L39.3,48.8 Q41,51 39.8,53.6 Q37.5,56.8 33.5,54.4 L1,30 Q-1,28 1,26 Z" fill="#6b6b6b" transform="translate(1549,1280) scale(0.9925,0.9964285714285713)"/>
<path d="M1,26 L33.5,1.6 Q37.5,-0.8 39.8,2.4 Q41,5 39.3,7.2 L21.5,28 L39.3,48.8 Q41,51 39.8,53.6 Q37.5,56.8 33.5,54.4 L1,30 Q-1,28 1,26 Z" fill="#a2a2a2" transform="translate(1598,1280) scale(0.9925,0.9964285714285713)"/>
<path d="M1,26 L33.5,1.6 Q37.5,-0.8 39.8,2.4 Q41,5 39.3,7.2 L21.5,28 L39.3,48.8 Q41,51 39.8,53.6 Q37.5,56.8 33.5,54.4 L1,30 Q-1,28 1,26 Z" fill="#d4d4d4" transform="translate(1645,1280) scale(0.9925,0.9964285714285713)"/>
<path d="M1,26 L33.5,1.6 Q37.5,-0.8 39.8,2.4 Q41,5 39.3,7.2 L21.5,28 L39.3,48.8 Q41,51 39.8,53.6 Q37.5,56.8 33.5,54.4 L1,30 Q-1,28 1,26 Z" fill="#bdbdbd" transform="translate(1348.7,1767) scale(-0.9974999999999999,0.9964285714285713)"/>
<path d="M1,26 L33.5,1.6 Q37.5,-0.8 39.8,2.4 Q41,5 39.3,7.2 L21.5,28 L39.3,48.8 Q41,51 39.8,53.6 Q37.5,56.8 33.5,54.4 L1,30 Q-1,28 1,26 Z" fill="#6c6c6c" transform="translate(1395.9,1767) scale(-0.9974999999999999,0.9964285714285713)"/>
<path d="M1,26 L33.5,1.6 Q37.5,-0.8 39.8,2.4 Q41,5 39.3,7.2 L21.5,28 L39.3,48.8 Q41,51 39.8,53.6 Q37.5,56.8 33.5,54.4 L1,30 Q-1,28 1,26 Z" fill="#0c0c0c" transform="translate(1444.7,1767) scale(-0.9974999999999999,0.9964285714285713)"/>
<circle cx="1187" cy="532.5" r="15.7" fill="#8c7d3e" opacity="1"/>
<text x="1187" y="539.094" font-family="Liberation Serif" font-weight="bold" font-size="21.195" fill="#fff" text-anchor="middle">1</text>
<circle cx="1188.6" cy="607.5" r="15.7" fill="#8c7d3e" opacity="1"/>
<text x="1188.6" y="614.094" font-family="Liberation Serif" font-weight="bold" font-size="21.195" fill="#fff" text-anchor="middle">2</text>
<circle cx="1008.5" cy="486.7" r="15.4" fill="#8c7d3e" opacity="1"/>
<text x="1008.5" y="493.168" font-family="Liberation Serif" font-weight="bold" font-size="20.790000000000003" fill="#fff" text-anchor="middle">1</text>
<circle cx="850" cy="788.6" r="15.4" fill="#8c7d3e" opacity="1"/>
<text x="850" y="795.068" font-family="Liberation Serif" font-weight="bold" font-size="20.790000000000003" fill="#fff" text-anchor="middle">2</text>
<circle cx="673" cy="996" r="16" fill="#bfb58e" opacity="1"/>
<text x="673" y="1002.72" font-family="Liberation Serif" font-weight="bold" font-size="21.6" fill="#fff" text-anchor="middle">1</text>
<circle cx="674" cy="1033" r="16" fill="#bfb58e" opacity="1"/>
<text x="674" y="1039.72" font-family="Liberation Serif" font-weight="bold" font-size="21.6" fill="#fff" text-anchor="middle">2</text>
<circle cx="496" cy="1330" r="71" fill="none" stroke="#8b1f24" stroke-width="2.6" stroke-dasharray="8.5 6"/>
<circle cx="496" cy="1477" r="71" fill="none" stroke="#8b1f24" stroke-width="2.6" stroke-dasharray="8.5 6"/>
<circle cx="496" cy="1663.5" r="71" fill="none" stroke="#8b1f24" stroke-width="2.6" stroke-dasharray="8.5 6"/>
<circle cx="496" cy="1810" r="71" fill="none" stroke="#8b1f24" stroke-width="2.6" stroke-dasharray="8.5 6"/>
<path d="M368,1293 L432.8,1300.5 M432.5,1296 L432.5,1304" stroke="#7d1a1a" stroke-width="2.2" fill="none"/>
<path d="M278.8,1495.5 L425.3,1468.2 M425.3,1463 L425.3,1473" stroke="#7d1a1a" stroke-width="2.2" fill="none"/>
<path d="M556,1627.3 L643,1593.7 M556,1622 L557,1633" stroke="#7d1a1a" stroke-width="2.2" fill="none"/>
<path d="M561.5,1834 L759.7,1875.7 M561.5,1829 L561.5,1839" stroke="#7d1a1a" stroke-width="2.2" fill="none"/>
<path d="M497.7,1283.5 L544.2,1330 L497.7,1376.5 L451.2,1330 Z" fill="none" stroke="#000" stroke-width="12.5" stroke-linejoin="miter"/>
<rect x="460" y="1441" width="27.5" height="95.5" fill="#1c1c1e"/>
<rect x="487" y="1444.6" width="70" height="17.4" fill="#1c1c1e"/>
<line x1="487.5" y1="1441" x2="487.5" y2="1462" stroke="#3a3a3a" stroke-width="1"/>
<circle cx="495.3" cy="1664" r="38" fill="none" stroke="#000" stroke-width="12"/>
<path d="M432.5,1778.5 L494,1772 Q540,1772 540,1815 L540,1861 L516,1863 L516,1822 Q516,1796 494,1795 L432.5,1800 Z" fill="#3b3f9e"/>
<path d="M495,1775 Q534,1776 536,1815 L536,1858" stroke="#5257c2" stroke-width="4" fill="none"/>
<circle cx="251.4" cy="1380" r="60" fill="#fdd500" stroke="#111" stroke-width="3.2"/>
<ellipse cx="232.0" cy="1359" rx="6.6" ry="9.8" fill="#231a14"/>
<ellipse cx="270.8" cy="1359" rx="6.6" ry="9.8" fill="#231a14"/>
<path d="M218.60000000000002,1415 Q251.4,1377 283.7,1415" stroke="#231a14" stroke-width="4.2" fill="none"/>
<circle cx="757" cy="1740" r="60" fill="#fdd500" stroke="#111" stroke-width="3.2"/>
<ellipse cx="737.4" cy="1718.6" rx="6.6" ry="10" fill="#231a14"/>
<ellipse cx="775.8" cy="1718.6" rx="6.6" ry="10" fill="#231a14"/>
<path d="M716.3,1757 Q757,1798 798,1757" stroke="#231a14" stroke-width="4.6" fill="none"/>
<line x1="1329.4" y1="1309" x2="1337.3" y2="1309" stroke="#8e8e8e" stroke-width="7" stroke-linecap="round"/>
<line x1="1369.1" y1="1309" x2="1396.9" y2="1309" stroke="#8e8e8e" stroke-width="7" stroke-linecap="round"/>
<line x1="1427.5" y1="1309" x2="1455.3" y2="1309" stroke="#8e8e8e" stroke-width="7" stroke-linecap="round"/>
<line x1="1485.9" y1="1309" x2="1496.5" y2="1309" stroke="#8e8e8e" stroke-width="7" stroke-linecap="round"/>
<line x1="1324.5" y1="1318" x2="1338.5" y2="1318" stroke="#8e8e8e" stroke-width="7" stroke-linecap="round"/>
<line x1="1365.5" y1="1318" x2="1398.2" y2="1318" stroke="#8e8e8e" stroke-width="7" stroke-linecap="round"/>
<line x1="1363" y1="1337.5" x2="1363" y2="1360.5" stroke="#8e8e8e" stroke-width="7" stroke-linecap="round"/>
<line x1="1363" y1="1394.5" x2="1363" y2="1418.5" stroke="#8e8e8e" stroke-width="7" stroke-linecap="round"/>
<line x1="1363" y1="1454.5" x2="1363" y2="1477.5" stroke="#8e8e8e" stroke-width="7" stroke-linecap="round"/>
<line x1="1363" y1="1513.5" x2="1363" y2="1535.5" stroke="#8e8e8e" stroke-width="7" stroke-linecap="round"/>
<line x1="1363" y1="1571.1" x2="1363" y2="1584.5" stroke="#8e8e8e" stroke-width="7" stroke-linecap="round"/>
<line x1="1470" y1="1318.9" x2="1470" y2="1343.0" stroke="#8e8e8e" stroke-width="7" stroke-linecap="round"/>
<line x1="1470" y1="1377.3" x2="1470" y2="1402.5" stroke="#8e8e8e" stroke-width="7" stroke-linecap="round"/>
<line x1="1470" y1="1436.9" x2="1470" y2="1462.2" stroke="#8e8e8e" stroke-width="7" stroke-linecap="round"/>
<line x1="1470" y1="1494.1" x2="1470" y2="1520.5" stroke="#8e8e8e" stroke-width="7" stroke-linecap="round"/>
<line x1="1470" y1="1553.5" x2="1470" y2="1584.5" stroke="#8e8e8e" stroke-width="7" stroke-linecap="round"/>
<line x1="1284.5" y1="1547" x2="1297.5" y2="1547" stroke="#8e8e8e" stroke-width="7" stroke-linecap="round"/>
<line x1="1328.2" y1="1547" x2="1355.9" y2="1547" stroke="#8e8e8e" stroke-width="7" stroke-linecap="round"/>
<line x1="1386.5" y1="1547" x2="1399.5" y2="1547" stroke="#8e8e8e" stroke-width="7" stroke-linecap="round"/>
<line x1="1284.5" y1="1587.5" x2="1313.5" y2="1587.5" stroke="#8e8e8e" stroke-width="7" stroke-linecap="round"/>
<line x1="1343.1" y1="1587.5" x2="1373.3" y2="1587.5" stroke="#8e8e8e" stroke-width="7" stroke-linecap="round"/>
<line x1="1402.5" y1="1587.5" x2="1433.0" y2="1587.5" stroke="#8e8e8e" stroke-width="7" stroke-linecap="round"/>
<line x1="1461.1" y1="1587.5" x2="1491.3" y2="1587.5" stroke="#8e8e8e" stroke-width="7" stroke-linecap="round"/>
<line x1="1523.15" y1="1530.8" x2="1552.25" y2="1530.8" stroke="#9a8a42" stroke-width="7.5" stroke-linecap="round"/>
<line x1="1581.75" y1="1530.8" x2="1610.25" y2="1530.8" stroke="#9a8a42" stroke-width="7.5" stroke-linecap="round"/>
<line x1="1640.35" y1="1530.8" x2="1668.95" y2="1530.8" stroke="#9a8a42" stroke-width="7.5" stroke-linecap="round"/>
<line x1="1699.75" y1="1530.8" x2="1728.55" y2="1530.8" stroke="#9a8a42" stroke-width="7.5" stroke-linecap="round"/>
<line x1="1564" y1="1536.55" x2="1564" y2="1542.75" stroke="#9a8a42" stroke-width="7.5" stroke-linecap="round"/>
<line x1="1564" y1="1580.15" x2="1564" y2="1601.75" stroke="#9a8a42" stroke-width="7.5" stroke-linecap="round"/>
<line x1="1564" y1="1639.55" x2="1564" y2="1659.85" stroke="#9a8a42" stroke-width="7.5" stroke-linecap="round"/>
<line x1="1564" y1="1698.75" x2="1564" y2="1719.25" stroke="#9a8a42" stroke-width="7.5" stroke-linecap="round"/>
<line x1="1564" y1="1758.25" x2="1564" y2="1778.55" stroke="#9a8a42" stroke-width="7.5" stroke-linecap="round"/>
<line x1="1564" y1="1816.35" x2="1564" y2="1836.65" stroke="#9a8a42" stroke-width="7.5" stroke-linecap="round"/>
<line x1="1564" y1="1875.75" x2="1564" y2="1886.25" stroke="#9a8a42" stroke-width="7.5" stroke-linecap="round"/>
<line x1="1618.75" y1="1614.3" x2="1633.95" y2="1614.3" stroke="#9a8a42" stroke-width="7.5" stroke-linecap="round"/>
<line x1="1677.55" y1="1614.3" x2="1692.85" y2="1614.3" stroke="#9a8a42" stroke-width="7.5" stroke-linecap="round"/>
<line x1="1736.15" y1="1614.3" x2="1751.25" y2="1614.3" stroke="#9a8a42" stroke-width="7.5" stroke-linecap="round"/>
<line x1="1794.25" y1="1614.3" x2="1810.85" y2="1614.3" stroke="#9a8a42" stroke-width="7.5" stroke-linecap="round"/>
<line x1="1661.7" y1="1639.55" x2="1661.7" y2="1667.25" stroke="#9a8a42" stroke-width="7.5" stroke-linecap="round"/>
<line x1="1661.7" y1="1698.75" x2="1661.7" y2="1725.25" stroke="#9a8a42" stroke-width="7.5" stroke-linecap="round"/>
<line x1="1661.7" y1="1758.25" x2="1661.7" y2="1784.85" stroke="#9a8a42" stroke-width="7.5" stroke-linecap="round"/>
<line x1="1661.7" y1="1816.35" x2="1661.7" y2="1844.25" stroke="#9a8a42" stroke-width="7.5" stroke-linecap="round"/>
<line x1="1661.7" y1="1875.75" x2="1661.7" y2="1886.25" stroke="#9a8a42" stroke-width="7.5" stroke-linecap="round"/>
<line x1="1618.75" y1="1854.3" x2="1631.25" y2="1854.3" stroke="#9a8a42" stroke-width="7.5" stroke-linecap="round"/>
<line x1="1661.75" y1="1854.3" x2="1690.75" y2="1854.3" stroke="#9a8a42" stroke-width="7.5" stroke-linecap="round"/>
<line x1="1721.05" y1="1854.3" x2="1733.75" y2="1854.3" stroke="#9a8a42" stroke-width="7.5" stroke-linecap="round"/>
<line x1="1530.25" y1="1896" x2="1560.65" y2="1896" stroke="#9a8a42" stroke-width="7.5" stroke-linecap="round"/>
<line x1="1589.75" y1="1896" x2="1620.05" y2="1896" stroke="#9a8a42" stroke-width="7.5" stroke-linecap="round"/>
<line x1="1649.05" y1="1896" x2="1678.25" y2="1896" stroke="#9a8a42" stroke-width="7.5" stroke-linecap="round"/>
<line x1="1707.15" y1="1896" x2="1737.55" y2="1896" stroke="#9a8a42" stroke-width="7.5" stroke-linecap="round"/>
</svg>
</body></html>
